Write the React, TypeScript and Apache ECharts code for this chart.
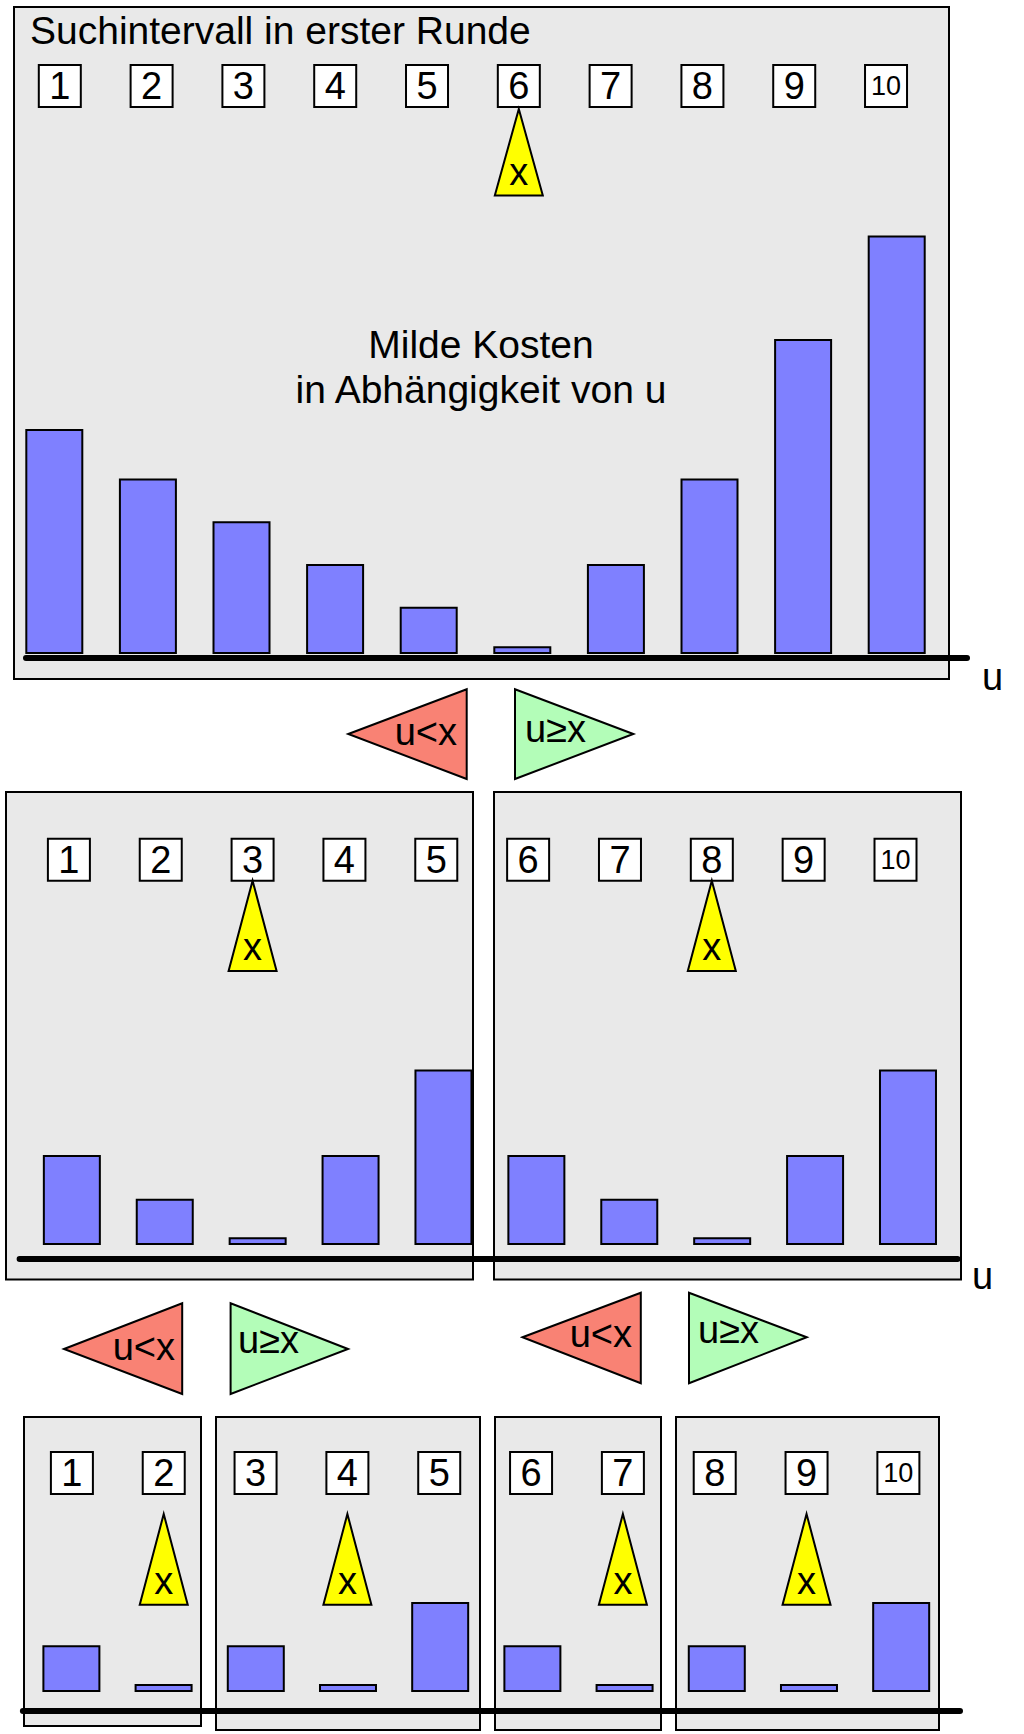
import React, { useEffect, useRef } from 'react';
import * as echarts from 'echarts';

// ---------- data ----------
const uValues = [1, 2, 3, 4, 5, 6, 7, 8, 9, 10];
const costRound1 = [5, 3.9, 2.95, 2, 1.05, 0.17, 2, 3.9, 7, 9.3];
const costRound2 = [2, 1.03, 0.17, 2, 3.9, 2, 1.03, 0.17, 2, 3.9];
const costRound3 = [1.04, 0.18, 1.04, 0.18, 2, 1.04, 0.18, 1.04, 0.18, 2];
const pivotsRound1 = [6];
const pivotsRound2 = [3, 8];
const pivotsRound3 = [2, 4, 7, 9];
const titleText = 'Suchintervall in erster Runde';
const noteLines = ['Milde Kosten', 'in Abhängigkeit von u'];
const axisName = 'u';
const pivotName = 'x';
const leftText = 'u<x';
const rightText = 'u≥x';

// ---------- layout / style ----------
const FONT = "'Liberation Sans', Arial, Helvetica, sans-serif";
const PANEL_BG = '#e9e9e9';
const BAR_COLOR = '#7f80ff';
const RED = '#f98274';
const GREEN = '#b3fdb8';
const YELLOW = '#ffff00';

const rowLayouts = [
  { costs: costRound1, pivots: pivotsRound1, grid: { left: 26, width: 941, top: 107, height: 550.6 },
    barMin: 0.6976, barMax: 10.751, boxMin: 0.6318, boxMax: 10.882, yMin: -0.08, yMax: 12.156,
    namePos: [982, 677], apexGap: 2, triH: 86.5 },
  { costs: costRound2, pivots: pivotsRound2, grid: { left: 19.6, width: 937.9, top: 880.7, height: 378.1 },
    barMin: 0.4376, barMax: 10.533, boxMin: 0.4632, boxMax: 10.675, yMin: -0.307, yMax: 8.095,
    namePos: [972, 1276], apexGap: 0, triH: 90.3 },
  { costs: costRound3, pivots: pivotsRound3, grid: { left: 22.9, width: 937.1, top: 1494, height: 216.3 },
    barMin: 0.474, barMax: 10.638, boxMin: 0.4664, boxMax: 10.671, yMin: -0.407, yMax: 4.4,
    namePos: null, apexGap: 20, triH: 90.7 },
];

const panels = [
  [14, 7, 935, 672],
  [6, 792, 467, 487.5],
  [494, 792, 467, 487.5],
  [24, 1417, 177, 309],
  [216, 1417, 264, 313],
  [495, 1417, 166, 313],
  [676, 1417, 263, 313],
];

const arrows = [
  { dir: 'left', tip: [348.3, 734], edge: 466.7, top: 689.3, bottom: 779, tx: 457, ty: 732 },
  { dir: 'right', tip: [633.3, 734], edge: 515, top: 689.3, bottom: 779, tx: 525, ty: 729 },
  { dir: 'left', tip: [64, 1349], edge: 182.2, top: 1303.3, bottom: 1394, tx: 175, ty: 1347 },
  { dir: 'right', tip: [348, 1349], edge: 230.6, top: 1303.3, bottom: 1394, tx: 238, ty: 1340 },
  { dir: 'left', tip: [522.5, 1337.3], edge: 640.8, top: 1292.7, bottom: 1383.3, tx: 632, ty: 1334 },
  { dir: 'right', tip: [806.7, 1337.3], edge: 689, top: 1292.7, bottom: 1383.3, tx: 698, ty: 1330 },
];

function textEl(text: string, x: number, y: number, align: string, size: number) {
  return {
    type: 'text',
    x,
    y,
    z: 10,
    style: {
      text,
      fill: '#000',
      fontSize: size,
      fontFamily: FONT,
      align,
      textAlign: align,
      verticalAlign: 'middle',
      textVerticalAlign: 'middle',
    },
  };
}

function buildOption() {
  const grids: any[] = [];
  const xAxes: any[] = [];
  const yAxes: any[] = [];
  const series: any[] = [];
  const graphics: any[] = [];

  rowLayouts.forEach((row, r) => {
    grids.push({ ...row.grid, containLabel: false });
    xAxes.push({
      type: 'value',
      gridIndex: r,
      position: 'bottom',
      min: row.barMin,
      max: row.barMax,
      z: 3,
      axisLine: { show: true, onZero: false, lineStyle: { color: '#000', width: 6 } },
      axisTick: { show: false },
      axisLabel: { show: false },
      splitLine: { show: false },
    });
    xAxes.push({
      type: 'value',
      gridIndex: r,
      position: 'top',
      min: row.boxMin,
      max: row.boxMax,
      show: false,
    });
    yAxes.push({ type: 'value', gridIndex: r, min: row.yMin, max: row.yMax, show: false });

    if (row.namePos) {
      graphics.push(textEl(axisName, row.namePos[0], row.namePos[1], 'left', 38));
    }

    series.push({
      type: 'bar',
      xAxisIndex: 2 * r,
      yAxisIndex: r,
      barWidth: 58,
      z: 2,
      itemStyle: { color: BAR_COLOR, borderColor: '#000', borderWidth: 2 },
      data: uValues.map((u, i) => [u, row.costs[i]]),
    });

    series.push({
      type: 'custom',
      xAxisIndex: 2 * r + 1,
      yAxisIndex: r,
      z: 4,
      data: uValues.map((u) => [u, 0]),
      renderItem: (params: any, api: any) => {
        const u = api.value(0);
        const x = api.coord([u, 0])[0];
        const bottom = params.coordSys.y;
        return {
          type: 'group',
          children: [
            {
              type: 'rect',
              shape: { x: x - 21, y: bottom - 42, width: 42, height: 42 },
              style: { fill: '#fff', stroke: '#000', lineWidth: 2 },
            },
            {
              type: 'text',
              style: {
                text: String(u),
                x,
                y: bottom - 21,
                align: 'center',
                verticalAlign: 'middle',
                fontSize: u >= 10 ? 27 : 38,
                fontFamily: FONT,
                fill: '#000',
              },
            },
          ],
        };
      },
    });

    series.push({
      type: 'custom',
      xAxisIndex: 2 * r + 1,
      yAxisIndex: r,
      z: 5,
      data: row.pivots.map((p) => [p, 0]),
      renderItem: (params: any, api: any) => {
        const p = api.value(0);
        const x = api.coord([p, 0])[0];
        const apexY = params.coordSys.y + row.apexGap;
        const baseY = apexY + row.triH;
        return {
          type: 'group',
          children: [
            {
              type: 'polygon',
              shape: { points: [[x, apexY], [x + 24, baseY], [x - 24, baseY]] },
              style: { fill: YELLOW, stroke: '#000', lineWidth: 2 },
            },
            {
              type: 'text',
              style: {
                text: pivotName,
                x,
                y: baseY - 24,
                align: 'center',
                verticalAlign: 'middle',
                fontSize: 38,
                fontFamily: FONT,
                fill: '#000',
              },
            },
          ],
        };
      },
    });
  });

  panels.forEach(([x, y, w, h]) => {
    graphics.push({
      type: 'rect',
      z: -1,
      shape: { x, y, width: w, height: h },
      style: { fill: PANEL_BG, stroke: '#000', lineWidth: 2 },
    });
  });
  arrows.forEach((a) => {
    graphics.push({
      type: 'polygon',
      z: 1,
      shape: { points: [a.tip, [a.edge, a.top], [a.edge, a.bottom]] },
      style: { fill: a.dir === 'left' ? RED : GREEN, stroke: '#000', lineWidth: 2 },
    });
    graphics.push(
      textEl(a.dir === 'left' ? leftText : rightText, a.tx, a.ty, a.dir === 'left' ? 'right' : 'left', 38)
    );
  });
  graphics.push(textEl(titleText, 30, 30, 'left', 39));
  graphics.push(textEl(noteLines[0], 481, 344, 'center', 39));
  graphics.push(textEl(noteLines[1], 481, 389, 'center', 39));

  return {
    animation: false,
    backgroundColor: '#ffffff',
    grid: grids,
    xAxis: xAxes,
    yAxis: yAxes,
    series,
    graphic: { elements: graphics },
  };
}

export default function App() {
  const ref = useRef<HTMLDivElement>(null);
  useEffect(() => {
    if (!ref.current) return;
    const chart = echarts.init(ref.current, undefined, { renderer: 'svg' });
    chart.setOption(buildOption() as any);
    return () => chart.dispose();
  }, []);
  return (
    <div
      ref={ref}
      style={{ position: 'absolute', left: 0, top: 0, width: 1024, height: 1734, background: '#fff' }}
    />
  );
}
